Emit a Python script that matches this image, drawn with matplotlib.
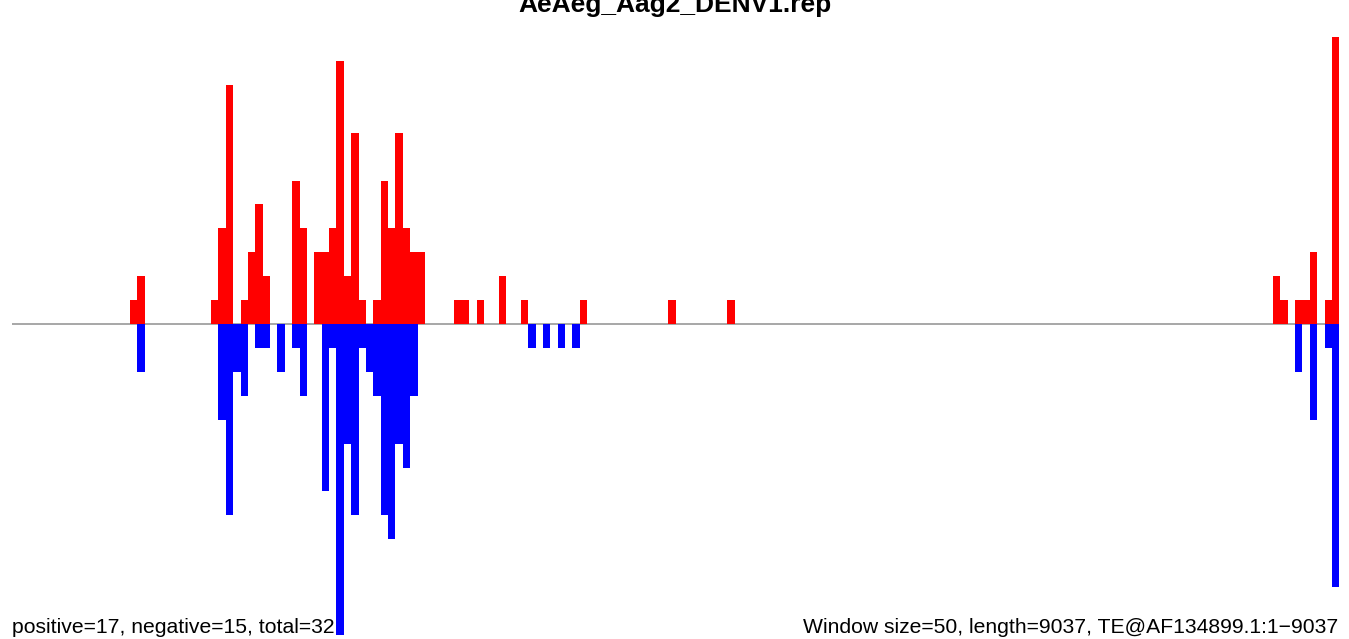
import numpy as np
import matplotlib
matplotlib.use('Agg')
import matplotlib.pyplot as plt

WINDOW = 50
LENGTH = 9037
TITLE = 'AeAeg_Aag2_DENV1.rep'

# window index -> read count (positive strand, red)
pos_windows = [16, 17, 27, 28, 29, 31, 32, 33, 34, 38, 39, 41, 42, 43, 44, 45, 46, 47,
               49, 50, 51, 52, 53, 54, 55, 60, 61, 63, 66, 69, 77, 89, 97,
               171, 172, 174, 175, 176, 178, 179]
pos_counts = [1, 2, 1, 4, 10, 1, 3, 5, 2, 6, 4, 3, 3, 4, 11, 2, 8, 1,
              1, 6, 4, 8, 4, 3, 3, 1, 1, 1, 2, 1, 1, 1, 1,
              2, 1, 1, 1, 3, 1, 12]

# negative strand, blue
neg_windows = [17, 28, 29, 30, 31, 33, 34, 36, 38, 39, 42, 43, 44, 45, 46, 47, 48,
               49, 50, 51, 52, 53, 54, 70, 72, 74, 76, 174, 176, 178, 179]
neg_counts = [2, 4, 8, 2, 3, 1, 1, 2, 1, 3, 7, 1, 13, 5, 8, 1, 2,
              3, 8, 9, 5, 6, 3, 1, 1, 1, 1, 2, 4, 1, 11]

W, H = 1349, 639
fig = plt.figure(figsize=(W / 100, H / 100), dpi=100)
ax = fig.add_axes([12 / W, 4 / H, (1339.3 - 12) / W, (635 - 37) / H])

ax.axhline(0, color='#a0a0a0', lw=1.3, zorder=1)
ax.bar(np.array(pos_windows) * WINDOW, pos_counts, width=WINDOW, align='edge',
       color='red', linewidth=0, zorder=2)
ax.bar(np.array(neg_windows) * WINDOW, -np.array(neg_counts), width=WINDOW, align='edge',
       color='blue', linewidth=0, zorder=2)

ax.set_xlim(0, 180 * WINDOW)
ax.set_ylim(-13, 12)
ax.axis('off')

font = ['Liberation Sans', 'DejaVu Sans']
fig.text(675 / W, 1 - 12 / H, TITLE, ha='center', va='baseline',
         fontsize=19, fontweight='bold', family=font)
fig.text(12 / W, 6 / H, 'positive=17, negative=15, total=32', ha='left', va='baseline',
         fontsize=15.2, family=font)
fig.text(1338 / W, 6 / H, f'Window size={WINDOW}, length={LENGTH}, TE@AF134899.1:1\u2212{LENGTH}',
         ha='right', va='baseline', fontsize=15.2, family=font)

fig.savefig('out.png', dpi=100)
